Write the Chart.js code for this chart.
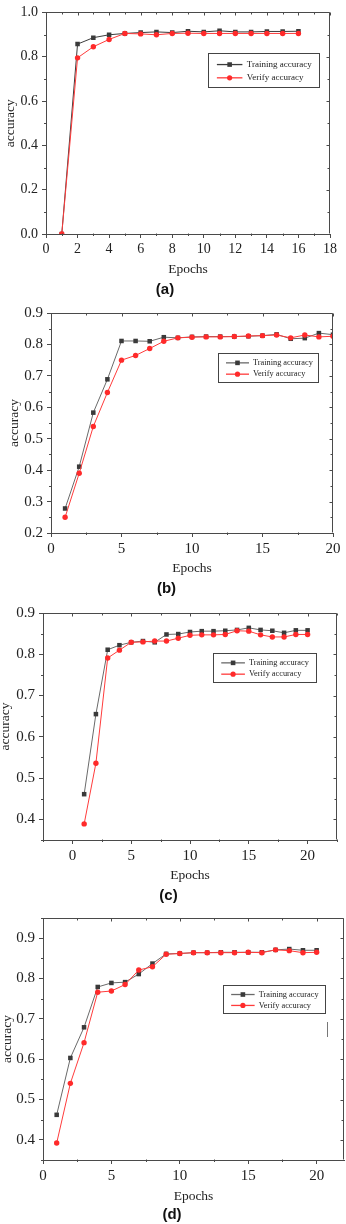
<!DOCTYPE html>
<html>
<head>
<meta charset="utf-8">
<script src="https://cdn.jsdelivr.net/npm/chart.js@4.4.1/dist/chart.umd.min.js"></script>
<style>
  body { margin: 0; background: #fff; width: 346px; height: 1224px; position: relative; overflow: hidden; }
  canvas { position: absolute; left: 0; }
</style>
</head>
<body>
<canvas id="chartA"></canvas>
<canvas id="chartB"></canvas>
<canvas id="chartC"></canvas>
<canvas id="chartD"></canvas>
<script>
// ---- data ----
var epochsA = [1, 2, 3, 4, 5, 6, 7, 8, 9, 10, 11, 12, 13, 14, 15, 16];
var trainA  = [0.0, 0.857, 0.886, 0.899, 0.905, 0.909, 0.912, 0.909, 0.915, 0.912, 0.917, 0.912, 0.912, 0.914, 0.914, 0.915];
var verifyA = [0.0, 0.795, 0.845, 0.878, 0.905, 0.903, 0.899, 0.905, 0.906, 0.905, 0.905, 0.905, 0.905, 0.905, 0.905, 0.905];

var epochsB = [1, 2, 3, 4, 5, 6, 7, 8, 9, 10, 11, 12, 13, 14, 15, 16, 17, 18, 19, 20];
var trainB  = [0.278, 0.411, 0.583, 0.689, 0.811, 0.811, 0.810, 0.823, 0.821, 0.824, 0.825, 0.825, 0.825, 0.826, 0.828, 0.832, 0.818, 0.820, 0.836, 0.831];
var verifyB = [0.250, 0.390, 0.539, 0.647, 0.750, 0.765, 0.787, 0.810, 0.821, 0.823, 0.824, 0.824, 0.825, 0.827, 0.828, 0.830, 0.821, 0.830, 0.824, 0.826];

var epochsC = [1, 2, 3, 4, 5, 6, 7, 8, 9, 10, 11, 12, 13, 14, 15, 16, 17, 18, 19, 20];
var trainC  = [0.461, 0.655, 0.811, 0.822, 0.829, 0.832, 0.829, 0.848, 0.849, 0.854, 0.856, 0.856, 0.857, 0.859, 0.864, 0.859, 0.857, 0.852, 0.858, 0.858];
var verifyC = [0.389, 0.536, 0.791, 0.810, 0.829, 0.830, 0.832, 0.832, 0.839, 0.846, 0.847, 0.847, 0.848, 0.857, 0.856, 0.847, 0.842, 0.842, 0.848, 0.848];

var epochsD = [1, 2, 3, 4, 5, 6, 7, 8, 9, 10, 11, 12, 13, 14, 15, 16, 17, 18, 19, 20];
var trainD  = [0.462, 0.603, 0.679, 0.779, 0.789, 0.791, 0.811, 0.837, 0.861, 0.862, 0.864, 0.864, 0.865, 0.865, 0.865, 0.865, 0.871, 0.873, 0.870, 0.870];
var verifyD = [0.392, 0.540, 0.641, 0.766, 0.769, 0.785, 0.821, 0.829, 0.860, 0.862, 0.864, 0.864, 0.864, 0.864, 0.865, 0.864, 0.871, 0.869, 0.864, 0.865];

var seriesNames = ["Training accuracy", "Verify accuracy"];
var panelTags = ["(a)", "(b)", "(c)", "(d)"];

var xTicksA = [0, 2, 4, 6, 8, 10, 12, 14, 16, 18];
var yTicksA = [0.0, 0.2, 0.4, 0.6, 0.8, 1.0];
var xTicksB = [0, 5, 10, 15, 20];
var yTicksB = [0.2, 0.3, 0.4, 0.5, 0.6, 0.7, 0.8, 0.9];
var xTicksC = [0, 5, 10, 15, 20];
var yTicksC = [0.4, 0.5, 0.6, 0.7, 0.8, 0.9];
var xTicksD = [0, 5, 10, 15, 20];
var yTicksD = [0.4, 0.5, 0.6, 0.7, 0.8, 0.9];

var W = 346;
var serif = '"Liberation Serif", "DejaVu Serif", serif';
var sans = '"Liberation Sans", Arial, sans-serif';
var axisColor = '#4a4a4a';

// half-way ticks between the majors, kept inside the axis range
function minorTicks(majors, min, max) {
  var step = majors[1] - majors[0], out = [];
  for (var v = majors[0] - step / 2; v <= max + 1e-9; v += step) {
    if (v >= min - 1e-9) out.push(v);
  }
  return out;
}

function line(ctx, x1, y1, x2, y2) {
  ctx.beginPath(); ctx.moveTo(x1, y1); ctx.lineTo(x2, y2); ctx.stroke();
}

// box frame, minor/inner ticks and the boxed legend, origin style
var framePlugin = {
  id: 'frame',
  afterDraw: function(chart, args, o) {
    var ctx = chart.ctx, a = chart.chartArea, xs = chart.scales.x, ys = chart.scales.y;
    var L = Math.round(a.left) + 0.5, R = Math.round(a.right) - 0.5;
    var T = Math.round(a.top) + 0.5, B = Math.round(a.bottom) - 0.5;
    ctx.save();
    ctx.strokeStyle = axisColor; ctx.lineWidth = 1;
    line(ctx, L, T, R, T);
    line(ctx, R, T, R, B);
    o.xMajor.forEach(function(v) {
      var px = Math.round(xs.getPixelForValue(v)) + 0.5;
      line(ctx, px, T, px, T + 3);
    });
    minorTicks(o.xMajor, xs.min, xs.max).forEach(function(v) {
      var px = Math.round(xs.getPixelForValue(v)) + 0.5;
      line(ctx, px, B, px, B + 2.5);
      line(ctx, px, T, px, T + 2);
    });
    o.yMajor.forEach(function(v) {
      var py = Math.round(ys.getPixelForValue(v)) + 0.5;
      line(ctx, R, py, R - 3, py);
    });
    minorTicks(o.yMajor, ys.min, ys.max).forEach(function(v) {
      var py = Math.round(ys.getPixelForValue(v)) + 0.5;
      line(ctx, L - 2.5, py, L, py);
      line(ctx, R, py, R - 2, py);
    });

    var lg = o.legend;
    ctx.strokeStyle = '#444';
    ctx.strokeRect(lg.x + 0.5, lg.y + 0.5, lg.w, lg.h);
    chart.data.datasets.forEach(function(ds, i) {
      var cy = lg.y + lg.h * (i === 0 ? 0.34 : 0.73);
      var x1 = lg.x + lg.w * 0.08, x2 = lg.x + lg.w * 0.31, xm = (x1 + x2) / 2;
      ctx.strokeStyle = ds.borderColor; ctx.lineWidth = 1.3;
      line(ctx, x1, cy, x2, cy);
      ctx.fillStyle = ds.pointBackgroundColor;
      if (ds.pointStyle === 'rect') {
        ctx.fillRect(xm - 2.3, cy - 2.3, 4.6, 4.6);
      } else {
        ctx.beginPath(); ctx.arc(xm, cy, 2.6, 0, Math.PI * 2); ctx.fill();
      }
      ctx.fillStyle = '#222';
      ctx.font = lg.font + 'px ' + serif;
      ctx.textBaseline = 'middle';
      ctx.fillText(ds.label, lg.x + lg.w * 0.35, cy);
    });
    if (o.mark) {
      ctx.strokeStyle = '#777'; ctx.lineWidth = 1;
      line(ctx, o.mark.x + 0.5, o.mark.y1, o.mark.x + 0.5, o.mark.y2);
    }
    ctx.restore();
  }
};

function makePanel(p) {
  var cv = document.getElementById(p.id);
  cv.width = W; cv.height = p.height;
  cv.style.top = p.top + 'px';
  var tagH = 18;
  var bottomPad = p.height - p.tagY - tagH / 2;
  var xH = (p.tagY - tagH / 2) - p.area.b;

  var pts = function(ys) { return p.epochs.map(function(e, i) { return { x: e, y: ys[i] }; }); };

  new Chart(cv, {
    type: 'line',
    data: {
      datasets: [{
        label: seriesNames[0],
        data: pts(p.train),
        borderColor: p.trainLine, borderWidth: 1, tension: 0,
        pointStyle: 'rect', pointRadius: 3.2,
        pointBackgroundColor: '#3a3a3a', pointBorderColor: '#3a3a3a', pointBorderWidth: 0,
        order: 1
      }, {
        label: seriesNames[1],
        data: pts(p.verify),
        borderColor: '#ff3b3b', borderWidth: 1, tension: 0,
        pointStyle: 'circle', pointRadius: 2.7,
        pointBackgroundColor: '#ff2a2a', pointBorderColor: '#ff2a2a', pointBorderWidth: 0,
        order: 0
      }]
    },
    options: {
      responsive: false,
      animation: false,
      devicePixelRatio: 1,
      layout: {
        autoPadding: false,
        padding: { left: 0, right: W - p.area.r, top: p.area.t, bottom: bottomPad }
      },
      plugins: {
        legend: { display: false },
        tooltip: { enabled: false },
        title: {
          display: true, text: p.tag, position: 'bottom', padding: 0,
          color: '#111', font: { family: sans, size: 15, weight: 'bold' }
        },
        frame: { xMajor: p.xTicks, yMajor: p.yTicks, legend: p.legend, mark: p.mark }
      },
      scales: {
        x: {
          type: 'linear', min: p.xMin, max: p.xMax,
          afterBuildTicks: function(s) { s.ticks = p.xTicks.map(function(v) { return { value: v }; }); },
          afterFit: function(s) { s.height = xH; },
          ticks: {
            color: '#222', padding: 3, maxRotation: 0, autoSkip: false,
            font: { family: serif, size: p.tickFont },
            callback: function(v) { return String(v); }
          },
          grid: { display: true, drawOnChartArea: false, drawTicks: true, tickLength: 4, color: axisColor },
          border: { display: true, color: axisColor },
          title: {
            display: true, text: 'Epochs', color: '#222',
            font: { family: serif, size: 13.5 },
            padding: { top: 0, bottom: p.tagY - tagH / 2 - 8.1 - p.titleY }
          }
        },
        y: {
          min: p.yMin, max: p.yMax,
          afterBuildTicks: function(s) { s.ticks = p.yTicks.map(function(v) { return { value: v }; }); },
          afterFit: function(s) { s.width = p.area.l; },
          ticks: {
            color: '#222', padding: 4,
            font: { family: serif, size: p.tickFont },
            callback: function(v) { return v.toFixed(1); }
          },
          grid: { display: true, drawOnChartArea: false, drawTicks: true, tickLength: 4, color: axisColor },
          border: { display: true, color: axisColor },
          title: {
            display: true, text: 'accuracy', color: '#222',
            font: { family: serif, size: 13.5 },
            padding: { top: p.yTitleX - 8.1, bottom: 0 }
          }
        }
      }
    },
    plugins: [framePlugin]
  });
}

makePanel({
  id: 'chartA', top: 0, height: 300, tag: panelTags[0],
  area: { l: 46, r: 330, t: 7, b: 234 }, titleY: 269, tagY: 290, yTitleX: 10,
  epochs: epochsA, train: trainA, verify: verifyA, trainLine: '#3c3c3c',
  xMin: 0, xMax: 18, yMin: 0, yMax: 1, xTicks: xTicksA, yTicks: yTicksA, tickFont: 14,
  legend: { x: 208, y: 53, w: 111, h: 34, font: 9 }
});
makePanel({
  id: 'chartB', top: 300, height: 300, tag: panelTags[1],
  area: { l: 51, r: 333, t: 7, b: 233 }, titleY: 268, tagY: 289, yTitleX: 14,
  epochs: epochsB, train: trainB, verify: verifyB, trainLine: '#6a6a6a',
  xMin: 0, xMax: 20, yMin: 0.2, yMax: 0.9, xTicks: xTicksB, yTicks: yTicksB, tickFont: 15,
  legend: { x: 218, y: 53, w: 100, h: 29, font: 8.3 }
});
makePanel({
  id: 'chartC', top: 600, height: 305, tag: panelTags[2],
  area: { l: 43, r: 337, t: 4, b: 240 }, titleY: 275, tagY: 296, yTitleX: 5,
  epochs: epochsC, train: trainC, verify: verifyC, trainLine: '#6a6a6a',
  xMin: -2.5, xMax: 22.5, yMin: 0.35, yMax: 0.9, xTicks: xTicksC, yTicks: yTicksC, tickFont: 15,
  legend: { x: 213, y: 53, w: 103, h: 29, font: 8.3 }
});
makePanel({
  id: 'chartD', top: 905, height: 319, tag: panelTags[3],
  area: { l: 43, r: 344, t: 13, b: 255 }, titleY: 291, tagY: 310, yTitleX: 7,
  epochs: epochsD, train: trainD, verify: verifyD, trainLine: '#6a6a6a',
  xMin: 0, xMax: 22, yMin: 0.35, yMax: 0.95, xTicks: xTicksD, yTicks: yTicksD, tickFont: 15,
  legend: { x: 223, y: 80, w: 102, h: 28, font: 8.3 },
  mark: { x: 327, y1: 117, y2: 132 }
});
</script>
</body>
</html>
